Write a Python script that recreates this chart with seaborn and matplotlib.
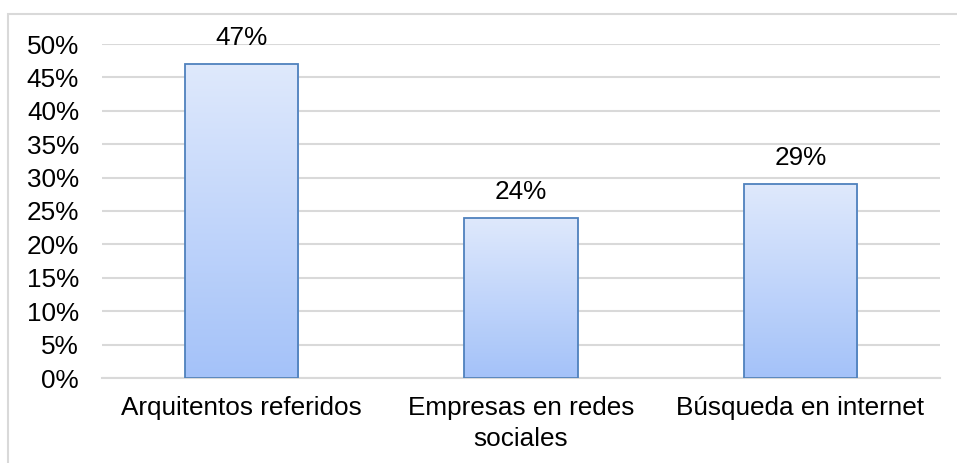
import matplotlib
matplotlib.use("Agg")
import matplotlib.pyplot as plt
import seaborn as sns
import numpy as np
import pandas as pd
from matplotlib.patches import Rectangle
from matplotlib.colors import LinearSegmentedColormap
from matplotlib.ticker import PercentFormatter

categories = ["Arquitentos referidos", "Empresas en redes\nsociales", "Búsqueda en internet"]
values = [0.47, 0.24, 0.29]
labels = ["47%", "24%", "29%"]

sns.set_theme(style="white")
plt.rcParams['font.family'] = ['Liberation Sans', 'DejaVu Sans']

FS = 18.8

fig = plt.figure(figsize=(9.57, 4.63), dpi=100)
ax = fig.add_axes([102/957, 1-378/463, 838/957, (378-44)/463])

# outer frame
fig.patches.append(Rectangle((8/957, -0.1), 1.2, 1.1 - 14/463, transform=fig.transFigure,
                             fill=False, edgecolor="#d9d9d9", linewidth=1.5, zorder=0))

df = pd.DataFrame({"cat": categories, "val": values})
sns.barplot(data=df, x="cat", y="val", ax=ax, width=0.405, color="#a4c2f9",
            edgecolor="#4f81bd", linewidth=1.3, zorder=3)

ax.set_ylim(0, 0.5)
ax.set_xlim(-0.5, 2.5)
ax.yaxis.set_major_locator(matplotlib.ticker.MultipleLocator(0.05))
ax.yaxis.set_major_formatter(PercentFormatter(1.0, decimals=0))
ax.grid(axis="y", color="#d9d9d9", linewidth=1.5, zorder=0)
ax.set_axisbelow(True)
for s in ["top", "right", "left"]:
    ax.spines[s].set_visible(False)
ax.spines["bottom"].set_color("#d9d9d9")
ax.spines["bottom"].set_linewidth(1.5)
ax.set_xlabel("")
ax.set_ylabel("")
ax.tick_params(axis="y", length=0, pad=16.5, labelsize=FS, labelcolor="black")
ax.tick_params(axis="x", length=0, pad=13, labelsize=FS, labelcolor="black")
for t in ax.get_xticklabels():
    t.set_linespacing(1.35)

cmap = LinearSegmentedColormap.from_list("g", ["#a4c2f9", "#dfe9fc"])
grad = np.linspace(0, 1, 256).reshape(-1, 1)
for p, lab in zip(ax.patches, labels):
    x0, y0 = p.get_x(), p.get_y()
    w, h = p.get_width(), p.get_height()
    p.set_facecolor("none")
    im = ax.imshow(grad, cmap=cmap, origin="lower", aspect="auto",
                   extent=[x0, x0 + w, y0, y0 + h], zorder=2)
    im.set_clip_path(p)
    ax.annotate(lab, (x0 + w / 2, y0 + h), xytext=(0, 10), textcoords="offset points",
                ha="center", va="bottom", fontsize=FS, color="black")
ax.set_xlim(-0.5, 2.5)
ax.set_ylim(0, 0.5)

fig.savefig("out.png", dpi=100)
